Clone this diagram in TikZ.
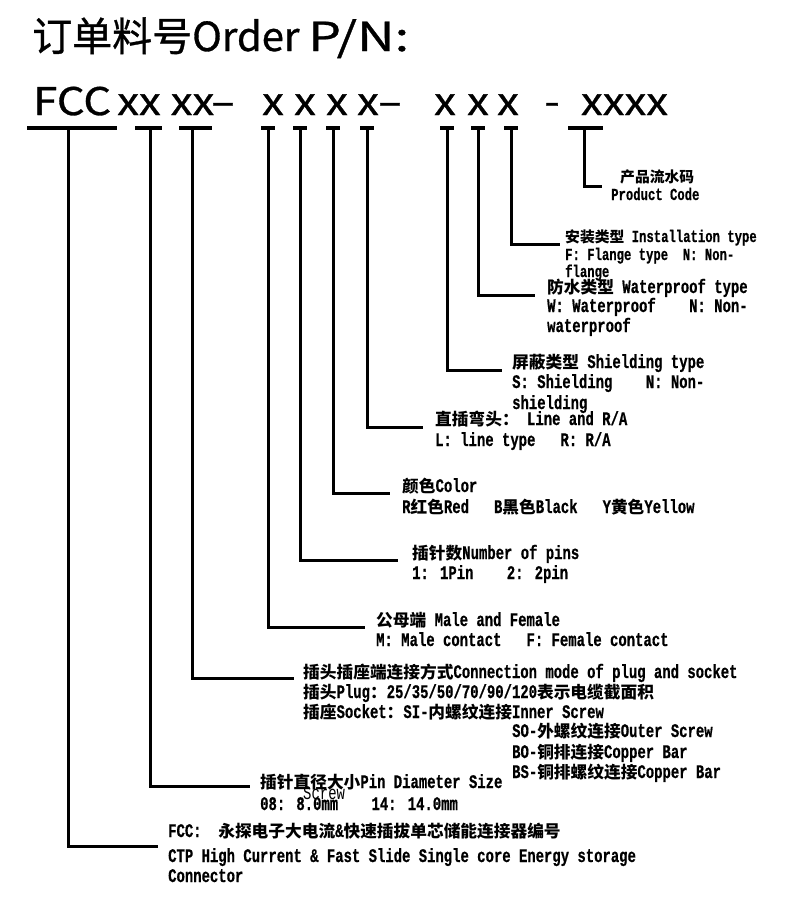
\documentclass[tikz,border=0pt]{standalone}
\usepackage{fontspec}
\newfontfamily\latf{Liberation Mono}[FakeStretch=0.725,FakeBold=0.6]
\newfontfamily\thinf{Liberation Mono}[FakeStretch=0.725]
\newfontfamily\cjkf{Noto Sans CJK SC}
\newfontfamily\headf{Noto Sans CJK SC}[FakeBold=0.8]
\newfontfamily\codef{Noto Sans CJK SC}[FakeStretch=1.15,FakeBold=0.8]
\newfontfamily\pnf{Noto Sans CJK SC}[FakeStretch=1.3,FakeBold=0.8]
\newcommand\zh[1]{{\cjkf\bfseries\fontsize{16.7pt}{20pt}\selectfont#1}}
\newcommand\zhs[1]{{\cjkf\bfseries\fontsize{14.8pt}{18pt}\selectfont#1}}
\begin{document}
\begin{tikzpicture}[x=1pt,y=-1pt,
  conn/.style={line width=3pt},
  bar/.style={line width=3.2pt},
  lbl/.style={anchor=base west,inner sep=0pt,font=\latf\bfseries\fontsize{19.2pt}{20pt}\selectfont},
  lbls/.style={anchor=base west,inner sep=0pt,font=\latf\bfseries\fontsize{16.9pt}{18pt}\selectfont},
  thin/.style={anchor=base west,inner sep=0pt,font=\thinf\fontsize{19.2pt}{20pt}\selectfont},
  code/.style={anchor=base,inner sep=0pt,font=\codef\fontsize{38pt}{44pt}\selectfont},
  head/.style={anchor=base west,inner sep=0pt,font=\headf\fontsize{40pt}{46pt}\selectfont}]
\fill[white] (0,0) rectangle (790,921);
\useasboundingbox (0,0) rectangle (790,921);
% header
\node[head] (hd) at (32,51) {订单料号Order};
\node[head,font=\pnf\fontsize{40pt}{46pt}\selectfont] (pn) at (308,51) {P/N:};
% code row
\node[code,anchor=base west] (cF) at (33,115) {FCC};
\node[code] (c1) at (139,115) {xx};
\node[code] (c2) at (192.5,115) {xx};
\node[code] (d1) at (223,115) {–};
\node[code] (c3) at (273,115) {x};
\node[code] (c4) at (305,115) {x};
\node[code] (c5) at (337,115) {x};
\node[code] (c6) at (368,115) {x};
\node[code] (d2) at (390,115) {–};
\node[code] (c7) at (445,115) {x};
\node[code] (c8) at (478,115) {x};
\node[code] (c9) at (508,115) {x};
\node[code] (d3) at (552,115) {-};
\node[code] (c10) at (624.5,115) {xxxx};
% bars
\draw[bar] (27,128) -- (117,128);
\draw[bar] (135,128) -- (162,128);
\draw[bar] (179,128) -- (212,128);
\foreach \s in {268,300,333,367,447,478,511} \draw[bar] (\s-7,128) -- (\s+7,128);
\draw[bar] (568,128) -- (603,128);
% stem tops and ends
\coordinate (s0) at (68,128);  \coordinate (e0) at (158,846);
\coordinate (s1) at (150,128); \coordinate (e1) at (250,786);
\coordinate (s2) at (192,128); \coordinate (e2) at (294,678);
\coordinate (s3) at (268,128); \coordinate (e3) at (365,627);
\coordinate (s4) at (300,128); \coordinate (e4) at (398,560);
\coordinate (s5) at (333,128); \coordinate (e5) at (390,493);
\coordinate (s6) at (367,128); \coordinate (e6) at (423,427);
\coordinate (s7) at (447,128); \coordinate (e7) at (502,370);
\coordinate (s8) at (478,128); \coordinate (e8) at (535,295);
\coordinate (s9) at (511,128); \coordinate (e9) at (560,244);
\coordinate (s10) at (584,128); \coordinate (e10) at (602,186);
\foreach \i in {0,...,10} \draw[conn] (s\i) |- (e\i);
% labels
\node[lbls] (l10a) at (620,182) {\zhs{产品流水码}};
\node[lbls] (l10b) at (611,200) {Product Code};
\node[lbls] (l9a) at (565,242) {\zhs{安装类型} Installation type};
\node[lbls] (l9b) at (565,260) {F: Flange type~~N: Non-};
\node[lbls] (l9c) at (565,277) {flange};
\node[lbl] (l8a) at (547,293) {\zh{防水类型} Waterproof type};
\node[lbl] (l8b) at (547,312) {W: Waterproof~~~~N: Non-};
\node[lbl] (l8c) at (547,332) {waterproof};
\node[lbl] (l7a) at (512,368) {\zh{屏蔽类型} Shielding type};
\node[lbl] (l7b) at (512,388) {S: Shielding~~~~N: Non-};
\node[lbl] (l7c) at (512,409) {shielding};
\node[lbl] (l6a) at (435,425) {\zh{直插弯头：} Line and R/A};
\node[lbl] (l6b) at (435,446) {L: line type~~~R: R/A};
\node[lbl] (l5a) at (402,492) {\zh{颜色}Color};
\node[lbl] (l5b) at (402,513) {R\zh{红色}Red~~~B\zh{黑色}Black~~~Y\zh{黄色}Yellow};
\node[lbl] (l4a) at (412,559) {\zh{插针数}Number of pins};
\node[lbl] (l4b) at (412,579) {1: 1Pin~~~~2: 2pin};
\node[lbl] (l3a) at (376,626) {\zh{公母端} Male and Female};
\node[lbl] (l3b) at (376,646) {M: Male contact~~~F: Female contact};
\node[lbl] (l2a) at (303,678) {\zh{插头插座端连接方式}Connection mode of plug and socket};
\node[lbl] (l2b) at (303,698) {\zh{插头}Plug\zh{：}25/35/50/70/90/120\zh{表示电缆截面积}};
\node[lbl] (l2c) at (303,718) {\zh{插座}Socket\zh{：}SI-\zh{内螺纹连接}Inner Screw};
\node[lbl] (l2d) at (512,737) {SO-\zh{外螺纹连接}Outer Screw};
\node[lbl] (l2e) at (512,758) {BO-\zh{铜排连接}Copper Bar};
\node[lbl] (l2f) at (512,778) {BS-\zh{铜排螺纹连接}Copper Bar};
\node[lbl] (l1a) at (260,788) {\zh{插针直径大小}Pin Diameter Size};
\node[thin] (l1s) at (303,799) {Screw};
\node[lbl] (l1b) at (260,810) {08: 8.0mm~~~~14: 14.0mm};
\node[lbl] (l0a) at (168,837) {FCC:~~\zh{永探电子大电流}\&\zh{快速插拔单芯储能连接器编号}};
\node[lbl] (l0b) at (168,862) {CTP High Current \& Fast Slide Single core Energy storage};
\node[lbl] (l0c) at (168,882) {Connector};
\end{tikzpicture}
\end{document}
